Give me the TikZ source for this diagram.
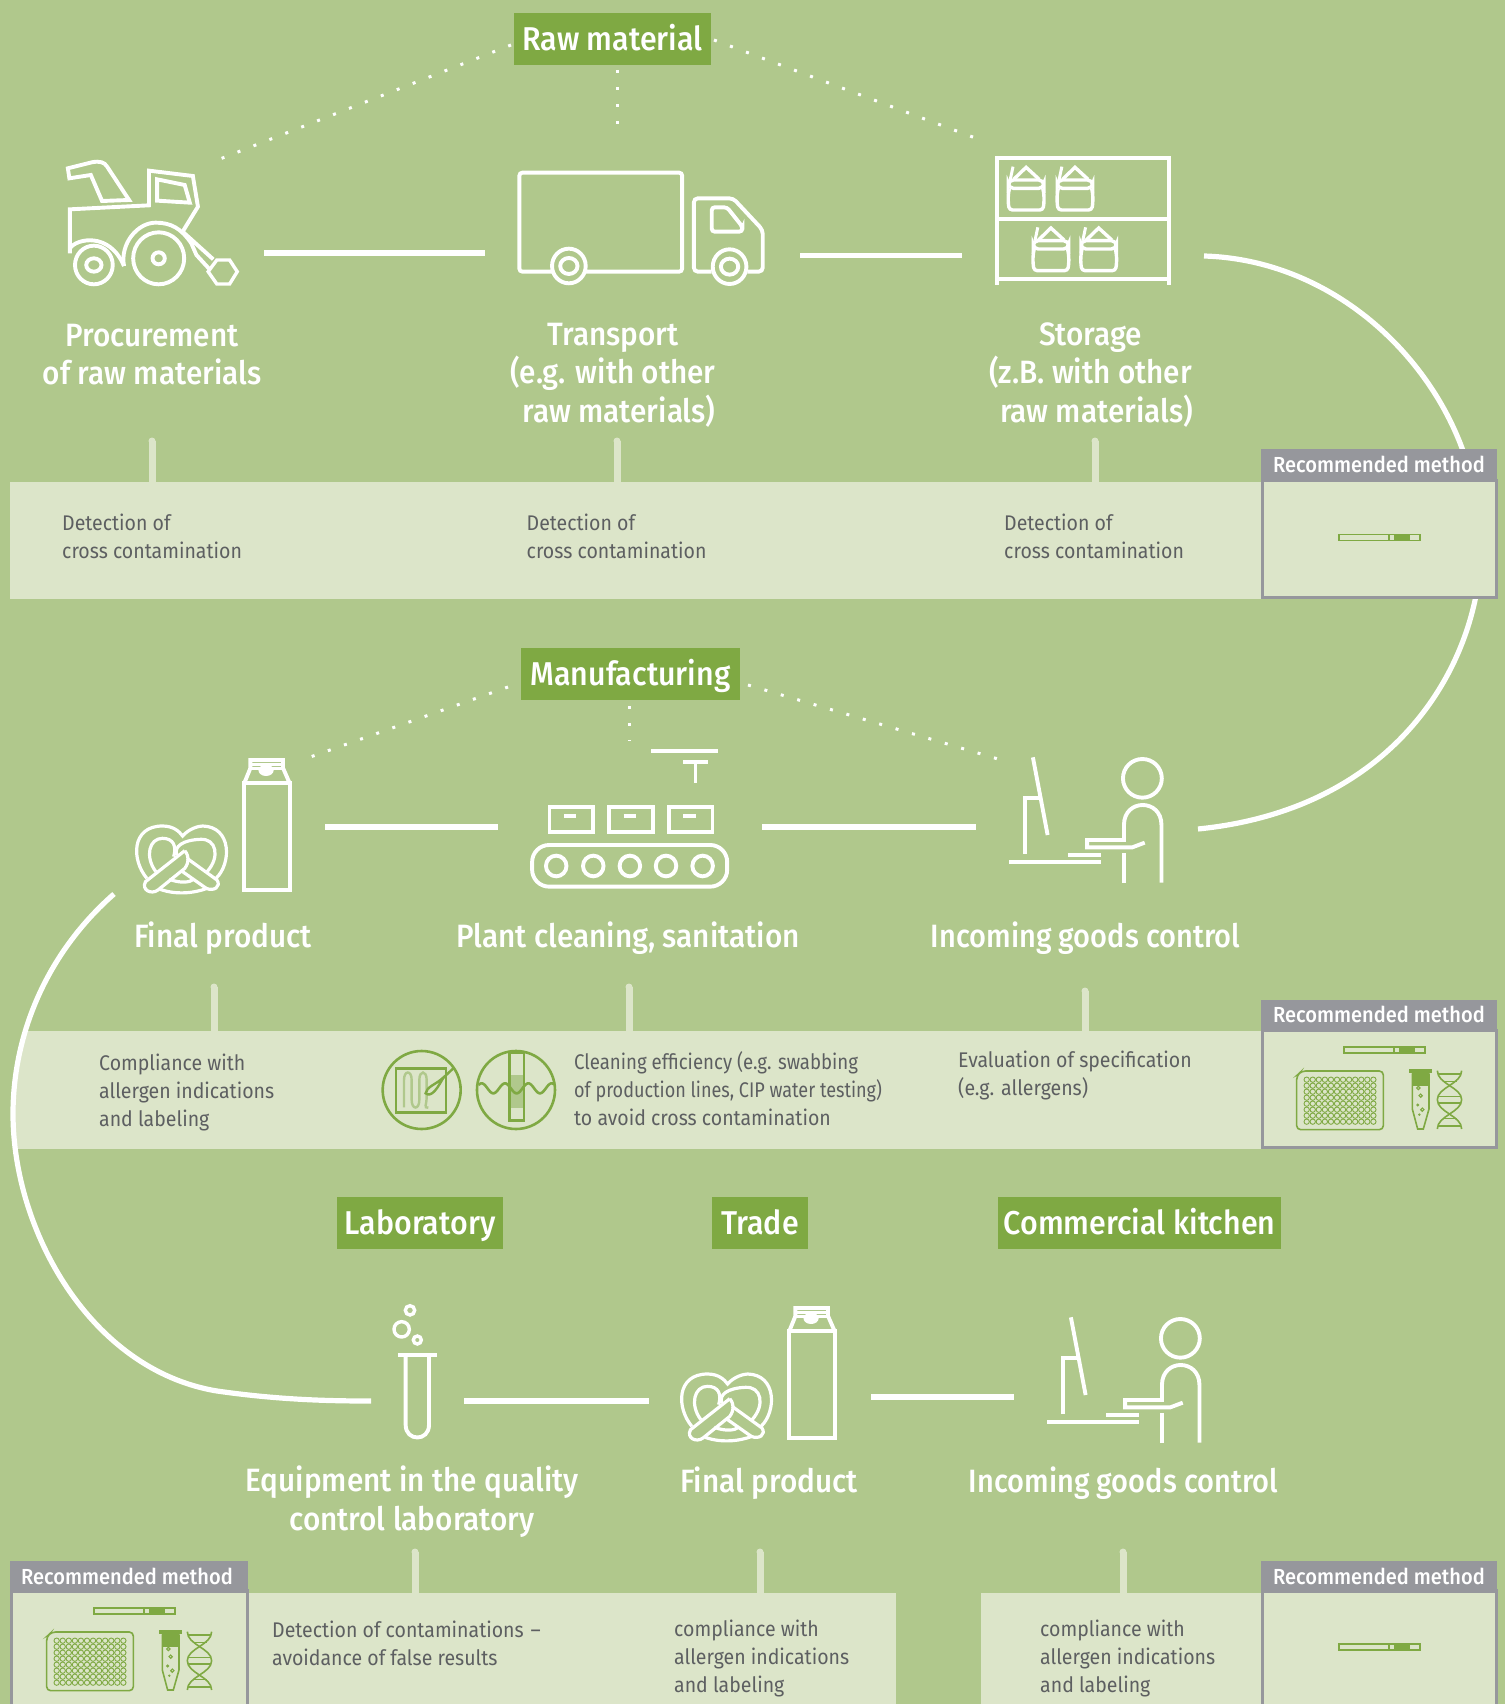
\documentclass[tikz,border=0pt]{standalone}
\usepackage{fontspec}
\setmainfont{Fira Sans}[FakeStretch=0.92]
\newfontfamily\medfont{Fira Sans Medium}[FakeStretch=0.92]
\definecolor{bgc}{HTML}{B0C88C}
\definecolor{panelc}{HTML}{DCE5C9}
\definecolor{greenc}{HTML}{7FA943}
\definecolor{grayc}{HTML}{96979C}
\definecolor{textc}{HTML}{5D5F61}
\tikzset{
  icon/.style={draw=white,line width=3.9pt,line join=miter,fill=none},
  link/.style={draw=white,line width=5.5pt},
  curveline/.style={draw=white,line width=5.2pt},
  dotline/.style={draw=white,line width=3pt,dash pattern=on 3pt off 14.1pt},
  stub/.style={draw=panelc,line width=7pt},
  panel/.style={fill=panelc,draw=none},
  tag/.style={fill=greenc,text=white,inner sep=0pt,font=\medfont\fontsize{33}{36}\selectfont,minimum height=52pt,anchor=center,text height=30pt,text depth=7pt},
  headline/.style={text=white,inner sep=0pt,align=center,font=\medfont\fontsize{32.3}{38.5}\selectfont,anchor=center},
  desc/.style={text=textc,inner sep=0pt,align=left,anchor=west,font=\fontsize{21.2}{28}\selectfont},
  rechead/.style={fill=grayc,draw=none},
  recbox/.style={draw=grayc,line width=3pt,fill=panelc},
  rectext/.style={text=white,inner sep=0pt,font=\medfont\fontsize{21.8}{24}\selectfont,anchor=center},
  thin/.style={draw=greenc,line width=1.6pt},
}
\newcommand{\pretzelmilk}{%
  \draw[icon] (323,160) rectangle (425,480);
  \draw[icon] (323,160)--(337,114)--(337,90)--(410,90)--(410,114)--(425,160);
  \draw[icon,line width=2.5pt] (337,103)--(410,103);
  \draw[icon,line width=2.5pt] (337,116)--(360,116) (386,116)--(410,116);
  \fill[white] (372,121) ellipse [x radius=17,y radius=17];
  % pretzel
  \draw[icon,line width=3.2pt] (105,445) .. controls (70,390) and (70,288) .. (140,288) .. controls (165,288) and (178,305) .. (185,318) .. controls (200,295) and (222,288) .. (230,288) .. controls (295,290) and (295,400) .. (260,445);
  \draw[icon,line width=3.2pt] (135,478) .. controls (170,495) and (210,490) .. (240,475);
  \draw[icon,line width=3.2pt] (125,425) .. controls (100,380) and (110,325) .. (140,325) .. controls (165,325) and (172,350) .. (165,380);
  \draw[icon,line width=3.2pt] (240,425) .. controls (270,380) and (260,325) .. (225,328) .. controls (185,330) and (165,350) .. (172,375);
  \draw[icon,line width=3.2pt] (190,362) -- (102,455) .. controls (92,480) and (115,495) .. (130,480) -- (190,415) .. controls (200,395) and (200,380) .. (190,362);
  \draw[icon,line width=3.2pt] (195,385) -- (262,450) .. controls (272,470) and (255,485) .. (238,475) -- (185,425);
  \draw[icon,line width=3.2pt] (155,448) .. controls (180,460) and (200,458) .. (210,448);
}
\newcommand{\personicon}{%
  \draw[icon] (485,145) ellipse [x radius=58,y radius=58];
  \draw[icon] (430,458)--(430,370);
  \draw[icon] (542,458)--(542,285) .. controls (542,205) and (430,205) .. (430,285) -- (430,330) -- (320,330)--(320,352)--(455,352)--(492,338);
  \draw[icon] (158,82)--(202,315);
  \draw[icon] (178,205)--(135,205)--(135,372);
  \draw[icon] (88,397)--(360,397);
  \draw[icon] (263,375)--(360,375);
}
\newcommand{\bagicon}{%
  \draw[icon,line width=3.4pt,rounded corners=3pt] (168,175) .. controls (162,200) and (165,225) .. (168,240) -- (262,240) .. controls (265,225) and (268,200) .. (262,175);
  \draw[icon,line width=3.4pt,rounded corners=5pt] (165,150) rectangle (265,175);
  \draw[icon,line width=3.4pt] (180,148)--(215,112)--(252,148);
  \draw[icon,line width=3pt] (178,110)--(170,150);
}
\newcommand{\stripicon}{% actual px, origin top-left of strip
  \draw[thin,fill=panelc] (0,0) rectangle (81,6);
  \fill[greenc] (56,0) rectangle (71,6);
  \draw[thin] (50,0)--(50,6) (56,0)--(56,6);
}
\newcommand{\methodicons}{% zoom 6 coordinates
  \draw[thin,rounded corners=4pt] (155,276)--(400,276)--(400,452)--(140,452)--(140,290)--cycle;
  \foreach \i in {0,...,11}{\foreach \j in {0,...,7}{
    \draw[thin,line width=0.9pt] ({170+\i*18.2},{302+\j*18}) ellipse [x radius=8,y radius=8];
  }}
  \fill[greenc] (477,270) rectangle (547,283);
  \fill[greenc] (487,283) rectangle (537,322);
  \draw[thin] (487,283)--(487,390)--(503,450)--(520,450)--(537,390)--(537,283);
  \draw[thin,line width=1.1pt] (505,327) ellipse [x radius=5,y radius=5];
  \draw[thin,line width=1.1pt] (512,350) ellipse [x radius=5,y radius=5];
  \fill[greenc] (503,378) ellipse [x radius=5,y radius=5];
  \draw[thin,line width=1.1pt] (517,392) ellipse [x radius=5,y radius=5];
  \fill[greenc] (508,407) ellipse [x radius=4,y radius=4];
  \draw[thin] (562,275) .. controls (562,315) and (635,325) .. (635,362) .. controls (635,400) and (562,410) .. (562,450);
  \draw[thin] (635,275) .. controls (635,315) and (562,325) .. (562,362) .. controls (562,400) and (635,410) .. (635,450);
  \draw[thin] (563,285)--(634,285) (578,308)--(620,308) (566,352)--(631,352) (566,372)--(631,372) (578,418)--(620,418) (563,441)--(634,441);
}
\begin{document}
\begin{tikzpicture}[x=1pt,y=-1pt]
\useasboundingbox (0,0) rectangle (1505,1704);
\clip (0,0) rectangle (1505,1704);
\fill[bgc] (0,0) rectangle (1505,1704);

% curves (behind panels)
\coordinate (cA) at (1204,256);
\coordinate (cB) at (1198,829);
\coordinate (cC) at (114,894);
\coordinate (cD) at (371,1401);
\draw[curveline] (cA) .. controls (1340,260) and (1450,370) .. (1474,490) .. controls (1505,600) and (1438,805) .. (cB);

% panels
\fill[panel] (10,482) rectangle (1262,599);
\begin{scope}
  \clip (cC) .. controls (50,950) and (13,1030) .. (13,1114) .. controls (13,1230) and (90,1370) .. (217,1391) -- (1505,1391) -- (1505,894) -- cycle;
  \fill[panel] (0,1031) rectangle (1262,1149);
\end{scope}
\fill[panel] (248,1593) rectangle (896,1710);
\fill[panel] (981,1593) rectangle (1262,1710);
\draw[curveline] (cC) .. controls (50,950) and (13,1030) .. (13,1114) .. controls (13,1230) and (90,1370) .. (217,1391) .. controls (280,1400) and (330,1401) .. (cD);

% stubs
\foreach \n/\x/\a/\b in {s1/152/441/482,s2/617/441/482,s3/1095/441/482,s4/214/987/1031,s5/629/987/1031,s6/1085/991/1031,s7/415/1552/1593,s8/760/1552/1593,s9/1123/1552/1593}{
  \coordinate (\n a) at (\x,\a);
  \coordinate (\n b) at (\x,\b);
  \draw[stub] (\n a) -- (\n b);
  \fill[panelc] (\n a) circle (3.5pt);
}

% recommended boxes
\draw[recbox] (1262.5,480) rectangle (1496,597.5);
\fill[rechead] (1261,449) rectangle (1497,482);
\node[rectext] (rec1) at (1379,464.5) {Recommended method};
\draw[recbox] (1262.5,1030) rectangle (1496,1147.5);
\fill[rechead] (1261,1000) rectangle (1497,1031);
\node[rectext] (rec2) at (1379,1014.5) {Recommended method};
\draw[recbox] (11.5,1590) rectangle (247,1720);
\fill[rechead] (10,1561) rectangle (248,1593);
\node[rectext] (rec3) at (127,1576.5) {Recommended method};
\draw[recbox] (1262.5,1590) rectangle (1496,1720);
\fill[rechead] (1261,1561) rectangle (1497,1593);
\node[rectext] (rec4) at (1379,1576.5) {Recommended method};

% strips and method icons
\begin{scope}[shift={(1339,534.5)}]\stripicon\end{scope}
\begin{scope}[shift={(1339,1644)}]\stripicon\end{scope}
\begin{scope}[shift={(94,1608)}]\stripicon\end{scope}
\begin{scope}[shift={(1344,1047)}]\stripicon\end{scope}
\begin{scope}[shift={(0,1540)},x=0.3333pt,y=-0.3333pt]\methodicons\end{scope}
\begin{scope}[shift={(1250,979)},x=0.3333pt,y=-0.3333pt]\methodicons\end{scope}

% tags
\node[tag,minimum width=197pt] (rawm) at (612.5,39) {Raw material};
\node[tag,minimum width=219pt] (manu) at (630.5,674) {Manufacturing};
\node[tag,minimum width=166pt] (labo) at (420,1223) {Laboratory};
\node[tag,minimum width=96pt] (trad) at (760,1223) {Trade};
\node[tag,minimum width=283pt] (ckit) at (1139.5,1223) {Commercial kitchen};

% dotted lines
\coordinate (d1) at (220,159); \coordinate (d1s) at (511,45);
\coordinate (d2) at (617,137); \coordinate (d2s) at (617,70);
\coordinate (d3) at (978,139); \coordinate (d3s) at (714,40);
\coordinate (d4) at (306,758.5); \coordinate (d4s) at (508,687);
\coordinate (d5) at (629,741); \coordinate (d5s) at (629,706);
\coordinate (d6) at (998,759); \coordinate (d6s) at (748,685);
\foreach \n in {1,...,6}{\draw[dotline] (d\n s) -- (d\n);}

% links
\coordinate (l1a) at (264,253); \coordinate (l1b) at (485,253);
\coordinate (l2a) at (800,255.5); \coordinate (l2b) at (962,255.5);
\coordinate (l3a) at (325,827); \coordinate (l3b) at (498,827);
\coordinate (l4a) at (762,827); \coordinate (l4b) at (976,827);
\coordinate (l5a) at (464,1401); \coordinate (l5b) at (649,1401);
\coordinate (l6a) at (871,1397); \coordinate (l6b) at (1014,1397);
\foreach \n in {1,...,6}{\draw[link] (l\n a) -- (l\n b);}

% tractor + truck
\begin{scope}[shift={(0,130)},x=0.5102pt,y=-0.3333pt]
  \draw[icon] (133,115) -- (180,97) .. controls (195,92) and (205,97) .. (210,110) -- (253,210) -- (200,213) -- (178,135) -- (136,145) -- cycle;
  \draw[icon] (137,370)--(137,238)--(292,226)--(292,122)--(378,138)--(388,230)--(358,305);
  \draw[icon] (308,148)--(362,165)--(372,218)--(308,212)--cycle;
  \draw[icon] (137,355) .. controls (150,325) and (215,305) .. (243,408);
  \draw[icon] (243,408) .. controls (235,340) and (270,278) .. (305,278) .. controls (335,278) and (355,295) .. (375,340) -- (385,375) -- (412,420);
  \draw[icon] (358,305)--(418,388);
  \draw[icon,line width=3.4pt] (408,425)--(425,390)--(450,390)--(465,425)--(450,462)--(425,462)--cycle;
  \draw[icon] (184,405) ellipse [x radius=37,y radius=58];
  \draw[icon] (184,405) ellipse [x radius=15,y radius=20];
  \draw[icon] (311,385) ellipse [x radius=50,y radius=78];
  \draw[icon] (311,385) ellipse [x radius=12,y radius=18];
  % truck
  \draw[icon,rounded corners=3pt] (1082,425)--(1018,425)--(1018,128)--(1337,128)--(1337,425)--(1148,425);
  \draw[icon] (1115,408) ellipse [x radius=33,y radius=52];
  \draw[icon] (1115,408) ellipse [x radius=17,y radius=24];
  \draw[icon,rounded corners=4pt] (1395,425)--(1360,425)--(1360,205)--(1437,205)--(1495,300)--(1495,425)--(1465,425);
  \draw[icon,rounded corners=3pt] (1395,232)--(1425,232)--(1455,290)--(1455,305)--(1395,305)--cycle;
  \draw[icon] (1430,410) ellipse [x radius=33,y radius=52];
  \draw[icon] (1430,410) ellipse [x radius=17,y radius=24];
\end{scope}

% storage
\begin{scope}[shift={(950,130)},x=0.354pt,y=-0.3333pt]
  \draw[icon] (132,465)--(132,85)--(618,85)--(618,465);
  \draw[icon] (132,266)--(618,266);
  \draw[icon] (132,448)--(618,448);
  \bagicon
  \begin{scope}[shift={(138,0)}]\bagicon\end{scope}
  \begin{scope}[shift={(70,182)}]\bagicon\end{scope}
  \begin{scope}[shift={(205,182)}]\bagicon\end{scope}
\end{scope}

% pretzel + milk row 2 and row 3
\begin{scope}[shift={(100,730)},x=0.4464pt,y=-0.3333pt]\pretzelmilk\end{scope}
\begin{scope}[shift={(645,1278)},x=0.4464pt,y=-0.3333pt]\pretzelmilk\end{scope}

% conveyor
\begin{scope}[shift={(100,730)},x=0.4464pt,y=-0.3333pt]
  \draw[icon] (1235,64)--(1385,64);
  \draw[icon] (1307,97)--(1362,97) (1334,97)--(1334,158);
  \foreach \bx in {1007,1140,1274}{
    \draw[icon] (\bx,232) rectangle (\bx+98,305);
    \draw[icon] (\bx+33,257)--(\bx+60,257);
  }
  \draw[icon,rounded corners=17pt] (968,345) rectangle (1405,470);
  \foreach \cx in {1022,1105,1187,1268,1350}{
    \draw[icon] (\cx,408) ellipse [x radius=23,y radius=31];
  }
\end{scope}

% persons
\begin{scope}[shift={(980,730)},x=0.3348pt,y=-0.3333pt]\personicon\end{scope}
\begin{scope}[shift={(1018,1290)},x=0.3348pt,y=-0.3333pt]\personicon\end{scope}

% test tube
\begin{scope}[shift={(370,1290)},x=0.3333pt,y=-0.3333pt]
  \draw[icon,line width=3.4pt] (120,61) ellipse [x radius=14,y radius=14];
  \draw[icon,line width=3.4pt] (95,118) ellipse [x radius=23,y radius=23];
  \draw[icon,line width=3.4pt] (142,150) ellipse [x radius=12,y radius=12];
  \draw[icon] (85,196)--(200,196);
  \draw[icon] (107,196)--(107,405) .. controls (107,455) and (177,455) .. (177,405) -- (177,196);
\end{scope}

% cleaning icons
\begin{scope}[shift={(360,1030)},x=0.3333pt,y=-0.3333pt]
  \draw[thin,line width=2.6pt] (185,180) ellipse [x radius=117,y radius=117];
  \draw[thin,line width=2.6pt] (108,115) rectangle (258,248);
  \draw[draw=bgc,line width=2.4pt] (132,232)--(132,150) .. controls (132,120) and (155,120) .. (155,150) -- (155,210) .. controls (155,240) and (178,240) .. (178,210) -- (178,150) .. controls (178,120) and (200,120) .. (200,150) -- (200,205) .. controls (200,222) and (190,235) .. (205,233);
  \draw[thin,line width=2.4pt,fill=panelc] (197,190) .. controls (200,170) and (225,165) .. (250,143) .. controls (235,170) and (215,205) .. (197,190) -- cycle;
  \draw[thin,line width=2.4pt] (245,148)--(280,115);
  \draw[thin,line width=2.6pt] (468,180) ellipse [x radius=117,y radius=117];
  \fill[bgc] (450,135) rectangle (490,235);
  \draw[thin,line width=2.6pt] (448,68) rectangle (492,272);
  \draw[thin,line width=2.6pt,smooth] plot[domain=356:582,samples=70] (\x,{175-15*cos((\x-435)/70*360)});
\end{scope}

% headlines
\node[headline] (h1) at (152,354.5) {Procurement\\of raw materials};
\node[headline] (h2) at (613,375) {Transport\\(e.g. with other\\\hspace*{12pt}raw materials)};
\node[headline] (h3) at (1090.5,375) {Storage\\(z.B. with other\\\hspace*{12pt}raw materials)};
\node[headline] (h4) at (223,938) {Final product};
\node[headline] (h5) at (628,938) {Plant cleaning, sanitation};
\node[headline] (h6) at (1085.5,938) {\scalebox{.975}[1]{Incoming goods control}};
\node[headline] (h7) at (412,1501.5) {Equipment in the quality\\control laboratory};
\node[headline] (h8) at (769,1483) {Final product};
\node[headline] (h9) at (1123.5,1483) {\scalebox{.975}[1]{Incoming goods control}};

% descriptions
\node[desc] (t1) at (62,536) {Detection of\\cross contamination};
\node[desc] (t2) at (526.5,536) {Detection of\\cross contamination};
\node[desc] (t3) at (1004,536) {Detection of\\cross contamination};
\node[desc] (t4) at (99,1092) {Compliance with\\allergen indications\\and labeling};
\node[desc] (t5) at (574,1089) {\scalebox{.956}[1]{Cleaning efficiency (e.g. swabbing}\\\scalebox{.925}[1]{of production lines, CIP water testing)}\\to avoid cross contamination};
\node[desc] (t6) at (958,1075.5) {Evaluation of specification\\(e.g. allergens)};
\node[desc] (t7) at (272,1643) {Detection of contaminations\hspace{7pt}–\\avoidance of false results};
\node[desc] (t8) at (674,1658) {compliance with\\allergen indications\\and labeling};
\node[desc] (t9) at (1040,1658) {compliance with\\allergen indications\\and labeling};
\end{tikzpicture}
\end{document}
